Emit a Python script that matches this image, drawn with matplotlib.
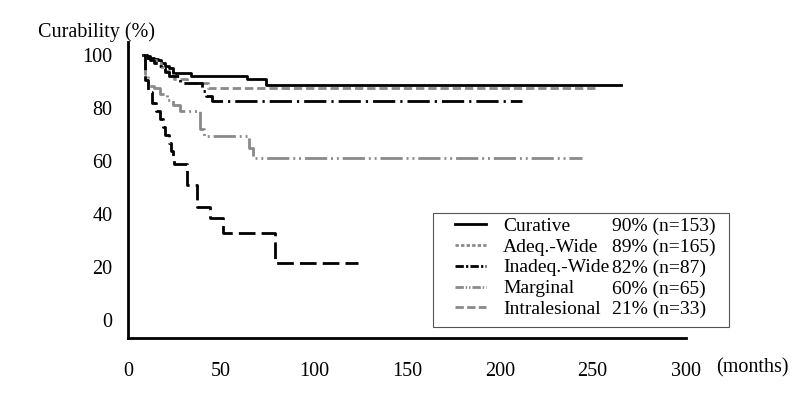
#!/usr/bin/env python3

import matplotlib
matplotlib.use("Agg")
import matplotlib.pyplot as plt
from matplotlib.lines import Line2D
from matplotlib.patches import Rectangle

# Kaplan-Meier style curability curves (months, %)
curative_t = [8, 10, 12, 14, 16, 18, 20, 22, 24, 34, 64, 74, 265]
curative_s = [100, 99.5, 99, 98.5, 98, 97, 96, 95, 93.3, 92, 91, 88.9, 88.9]

adeq_t = [8, 10, 12, 15, 18, 20, 22, 25, 32, 43, 252]
adeq_s = [100, 99, 98, 97, 95.5, 94, 92.5, 91, 89.4, 87.5, 87.5]

inadeq_t = [8, 10, 12, 14, 16, 18, 20, 22, 28, 40, 42, 45, 212]
inadeq_s = [100, 99, 98, 97, 96, 95, 93.5, 92, 89.4, 86.5, 84.5, 82.6, 82.6]

marginal_t = [8, 9, 11, 14, 17, 21, 24, 28, 39, 41, 65, 67, 244]
marginal_s = [100, 93, 88.5, 87.5, 85.5, 83, 81, 79, 72, 69.5, 65, 61.3, 61.3]

intra_t = [8, 9, 11, 13, 15, 17, 19, 20, 22, 23, 24, 25, 32, 37, 44, 51, 79, 124]
intra_s = [100, 90.5, 86, 82, 79, 76, 73, 70, 67, 64, 61.5, 59, 51, 42.5, 38.5, 33, 21.5, 21.5]

names = ["Curative", "Adeq.-Wide", "Inadeq.-Wide", "Marginal", "Intralesional"]
stats = ["90% (n=153)", "89% (n=165)", "82% (n=87)", "60% (n=65)", "21% (n=33)"]

x_ticks = [0, 50, 100, 150, 200, 250, 300]
y_ticks = [0, 20, 40, 60, 80, 100]

gray = "#8a8a8a"
lw = 2
dash_adeq = (0, (3, 1.4))
dash_inadeq = (0, (8, 1.8, 0.8, 1.8))
dash_marg = (0, (8, 1.4, 0.7, 1.4, 0.7, 1.4))
dash_intra = (0, (6, 2.2))

plt.rcParams["font.family"] = ["Liberation Serif", "DejaVu Serif"]
fig = plt.figure(figsize=(8, 3.95), dpi=100)
ax = fig.add_axes([0.16, 0.144, 0.697, 0.75])

ax.step(curative_t, curative_s, where="post", color="black", lw=lw, linestyle="-")
ax.step(adeq_t, adeq_s, where="post", color=gray, lw=lw, linestyle=dash_adeq)
ax.step(inadeq_t, inadeq_s, where="post", color="black", lw=lw, linestyle=dash_inadeq)
ax.step(marginal_t, marginal_s, where="post", color=gray, lw=lw, linestyle=dash_marg)
ax.step(intra_t, intra_s, where="post", color="black", lw=lw, linestyle=dash_intra)

ax.set_xlim(0, 300)
ax.set_ylim(-6.8, 105)
ax.set_xticks(x_ticks)
ax.set_yticks(y_ticks)
ax.tick_params(length=0, labelsize=14.5)
ax.tick_params(axis="x", pad=17)
ax.tick_params(axis="y", pad=11)
for side in ["top", "right"]:
    ax.spines[side].set_visible(False)
for side in ["left", "bottom"]:
    ax.spines[side].set_linewidth(2)

fig.text(0.121, 0.918, "Curability (%)", fontsize=14.5, ha="center", va="center")
fig.text(0.94, 0.068, "(months)", fontsize=14.5, ha="center", va="center")

# legend frame drawn by hand, legend itself without frame
ax.add_patch(Rectangle((0.5476, 0.037), 0.53, 0.385, transform=ax.transAxes,
                       fill=True, facecolor="white", edgecolor="#555555",
                       lw=0.8, clip_on=False, zorder=4))

# legend handles as in the original (styles differ slightly from the plot)
handles = [
    Line2D([], [], color="black", lw=lw, linestyle="-"),
    Line2D([], [], color=gray, lw=lw, linestyle=(0, (1.2, 0.8))),
    Line2D([], [], color="black", lw=lw, linestyle=(0, (3, 0.8, 0.8, 0.8))),
    Line2D([], [], color=gray, lw=lw, linestyle=(0, (3, 0.7, 0.5, 0.7, 0.5, 0.7))),
    Line2D([], [], color=gray, lw=lw, linestyle=(0, (3, 1.2))),
]
leg = ax.legend(handles, names, loc="upper left",
                bbox_to_anchor=((455 - 128) / 557, (338 - 217) / 296),
                fontsize=14, handlelength=1.6, handletextpad=0.85,
                labelspacing=0.17, borderpad=0, borderaxespad=0, frameon=False)
leg.set_zorder(5)

fig.canvas.draw()
inv = fig.transFigure.inverted()
for txt, s in zip(leg.get_texts(), stats):
    bb = txt.get_window_extent()
    y = inv.transform((0, (bb.y0 + bb.y1) / 2))[1]
    fig.text(612 / 800, y, s, fontsize=14, ha="left", va="center", zorder=6)

fig.savefig("out.png", dpi=100)
